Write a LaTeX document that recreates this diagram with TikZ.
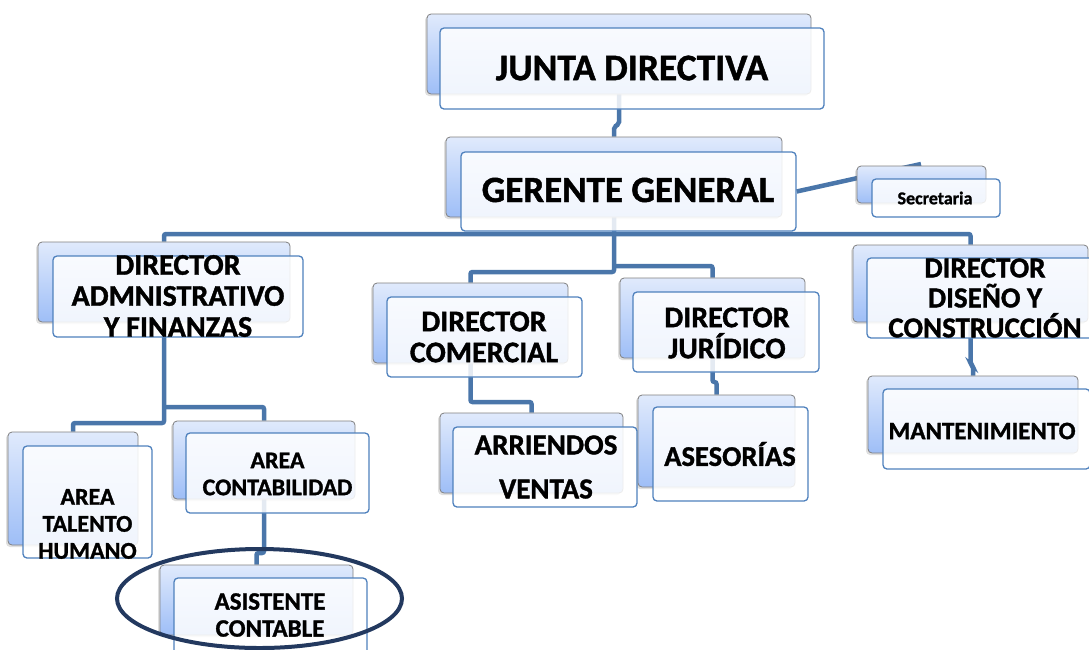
\documentclass[tikz,border=0pt]{standalone}
\usepackage{fontspec}
\setmainfont{Carlito}[BoldFeatures={FakeBold=1.2}]
\usetikzlibrary{shapes.geometric, shadows}

\definecolor{linea}{RGB}{74,118,170}
\definecolor{borde}{RGB}{79,129,189}
\definecolor{fondoA}{RGB}{224,234,252}
\definecolor{fondoB}{RGB}{158,190,247}
\definecolor{marco}{RGB}{128,128,128}
\definecolor{anillo}{RGB}{35,57,95}

\pgfdeclarelayer{fondo}
\pgfsetlayers{fondo,main}

\tikzset{
  atras/.style={rectangle, rounded corners=4pt, draw=marco, line width=0.8pt,
    top color=fondoA, bottom color=fondoB, inner sep=0pt,
    drop shadow={shadow xshift=-2pt, shadow yshift=-2pt, opacity=0.25}},
  frente/.style={rectangle, rounded corners=4pt, draw=borde, line width=1.3pt,
    fill=white, fill opacity=0.85, draw opacity=1, inner sep=0pt},
  conn/.style={draw=linea, line width=4.5pt, rounded corners=2pt},
  txt/.style={font=\bfseries\fontsize{30}{31}\selectfont, align=center, inner sep=0pt},
  txtchico/.style={font=\bfseries\fontsize{24}{27}\selectfont, align=center, inner sep=0pt}
}

\begin{document}
\begin{tikzpicture}[x=1pt, y=-1pt]
\useasboundingbox (0,0) rectangle (1089,649);

% cajas de atras
\path (619,54) node[atras, minimum width=384pt, minimum height=80pt] (junta-b) {}
      (614,177) node[atras, minimum width=336pt, minimum height=80pt] (gerente-b) {}
      (921.5,184.5) node[atras, minimum width=129pt, minimum height=37pt] (secre-b) {}
      (164,282) node[atras, minimum width=252pt, minimum height=80pt] (admin-b) {}
      (470.5,323) node[atras, minimum width=195pt, minimum height=80pt] (comer-b) {}
      (712.5,318) node[atras, minimum width=185pt, minimum height=80pt] (jurid-b) {}
      (970.5,283.5) node[atras, minimum width=235pt, minimum height=77pt] (diseno-b) {}
      (73,488.5) node[atras, minimum width=130pt, minimum height=113pt] (talento-b) {}
      (264,460) node[atras, minimum width=182pt, minimum height=78pt] (contab-b) {}
      (256.5,600) node[atras, minimum width=193pt, minimum height=70pt] (asist-b) {}
      (531.5,453) node[atras, minimum width=183pt, minimum height=80pt] (arri-b) {}
      (716.5,441) node[atras, minimum width=157pt, minimum height=92pt] (ases-b) {}
      (973,414.5) node[atras, minimum width=210pt, minimum height=77pt] (mant-b) {};

% cajas de frente
\path (632,68.5) node[frente, minimum width=384pt, minimum height=81pt] (junta) {}
      (628.5,191.5) node[frente, minimum width=335pt, minimum height=79pt] (gerente) {}
      (936,198) node[frente, minimum width=128pt, minimum height=38pt] (secre) {}
      (178,296.5) node[frente, minimum width=250pt, minimum height=81pt] (admin) {}
      (484.5,337) node[frente, minimum width=195pt, minimum height=80pt] (comer) {}
      (726,332) node[frente, minimum width=186pt, minimum height=80pt] (jurid) {}
      (984,298) node[frente, minimum width=234pt, minimum height=80pt] (diseno) {}
      (87.5,502) node[frente, minimum width=129pt, minimum height=112pt] (talento) {}
      (277.5,473) node[frente, minimum width=183pt, minimum height=80pt] (contab) {}
      (270.5,617) node[frente, minimum width=193pt, minimum height=78pt] (asist) {}
      (545,467) node[frente, minimum width=184pt, minimum height=80pt] (arri) {}
      (730.5,454) node[frente, minimum width=155pt, minimum height=94pt] (ases) {}
      (986.5,429) node[frente, minimum width=207pt, minimum height=80pt] (mant) {};

% textos
\path (632,68) node[txt, font=\bfseries\fontsize{37.5}{40}\selectfont] (junta-t) {JUNTA DIRECTIVA}
      (628,190) node[txt, font=\bfseries\fontsize{37}{40}\selectfont] (gerente-t) {GERENTE GENERAL}
      (935,198) node[txt, font=\bfseries\fontsize{18}{20}\selectfont] (secre-t) {Secretaria}
      (178,296) node[txt] (admin-t) {DIRECTOR\\ADMNISTRATIVO\\Y FINANZAS}
      (484,337) node[txt] (comer-t) {DIRECTOR\\COMERCIAL}
      (727,333) node[txt] (jurid-t) {DIRECTOR\\JURÍDICO}
      (985,298) node[txt, font=\bfseries\fontsize{29}{30}\selectfont] (diseno-t) {DIRECTOR\\DISEÑO Y\\CONSTRUCCIÓN}
      (87.5,524) node[txtchico] (talento-t) {AREA\\TALENTO\\HUMANO}
      (277.5,474) node[txtchico] (contab-t) {AREA\\CONTABILIDAD}
      (270,615) node[txtchico, font=\bfseries\fontsize{25}{27}\selectfont] (asist-t) {ASISTENTE\\CONTABLE}
      (546,467) node[txt, font=\bfseries\fontsize{29}{44}\selectfont] (arri-t) {ARRIENDOS\\VENTAS}
      (730,454) node[txt, font=\bfseries\fontsize{28.5}{31}\selectfont] (ases-t) {ASESORÍAS}
      (982,431) node[txt, font=\bfseries\fontsize{25}{27}\selectfont] (mant-t) {MANTENIMIENTO};

\node[ellipse, draw=anillo, line width=4pt, minimum width=285pt, minimum height=99pt] (marca) at (259.5,598.5) {};

\begin{pgfonlayer}{fondo}
\draw[conn] (junta-b.south) -- (619,124) -- (614,127) -- (gerente-b.north);
\draw[conn] (gerente.east) -- (921,164);
\draw[conn] (gerente-b.south) -- (614,272) -| (comer-b.north);
\draw[conn] (admin-b.north) |- (614,234) -| (diseno-b.north);
\draw[conn] (614,266) -| (jurid-b.north);
\draw[conn] (admin-b.south) -- (164,423) -| (talento-b.north);
\draw[conn] (164,407) -| (contab-b.north);
\draw[conn] (contab-b.south) -- (264,553) -| (asist-b.north);
\draw[conn] (comer-b.south) -- (470.5,402) -| (arri-b.north);
\draw[conn] (jurid-b.south) -- (712.5,382) -| (ases-b.north);
\draw[conn] (diseno-b.south) -- (970.5,364) -- (973,366) -- (mant-b.north);
\end{pgfonlayer}

\end{tikzpicture}
\end{document}
